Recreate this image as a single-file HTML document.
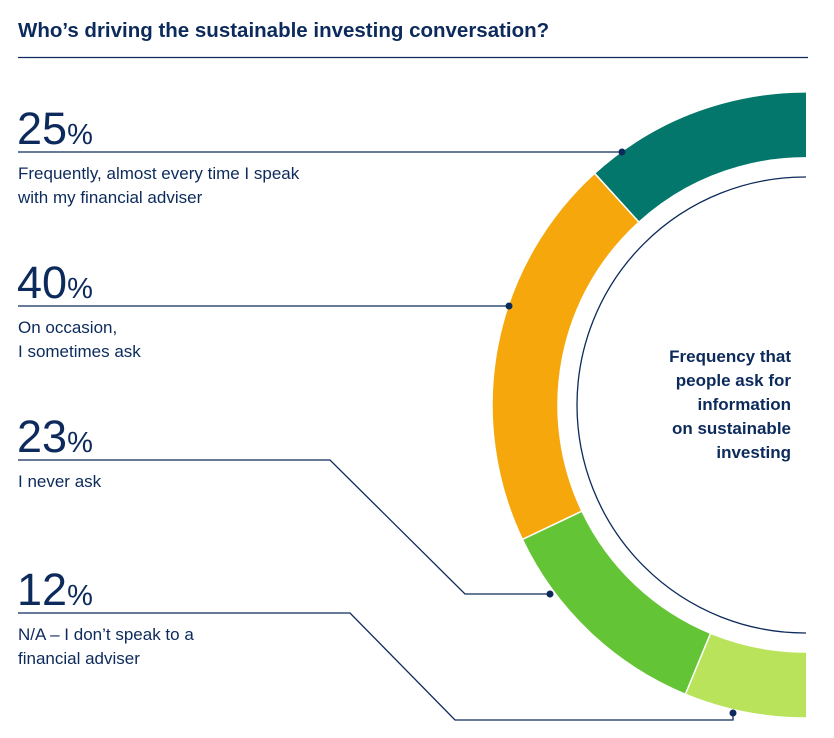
<!DOCTYPE html>
<html><head><meta charset="utf-8"><style>
body{margin:0;background:#fff;width:834px;height:738px;overflow:hidden;font-family:"Liberation Sans",sans-serif;color:#0c2a5b}
svg{position:absolute;left:0;top:0}
</style></head><body>
<svg width="834" height="738">
<defs><clipPath id="cut"><rect x="0" y="0" width="806" height="738"/></clipPath></defs>
<text x="18" y="37" font-size="20.5" font-weight="bold" fill="#0c2a5b">Who’s driving the sustainable investing conversation?</text>
<line x1="18" y1="57.5" x2="808" y2="57.5" stroke="#0c2a5b" stroke-width="1.3"/>
<g clip-path="url(#cut)">
<g id="arcs"></g>
<circle cx="805" cy="405" r="228" fill="none" stroke="#0c2a5b" stroke-width="1.3"/>
</g>
<g id="labels"></g>
<g font-size="17" font-weight="bold" fill="#0c2a5b" text-anchor="end">
<text x="791" y="362">Frequency that</text>
<text x="791" y="386">people ask for</text>
<text x="791" y="410">information</text>
<text x="791" y="434">on sustainable</text>
<text x="791" y="458">investing</text>
</g>
</svg>
<script>
const categories=["Frequently, almost every time I speak|with my financial adviser","On occasion,|I sometimes ask","I never ask","N/A – I don’t speak to a|financial adviser"];
const values=[25,40,23,12];
const colors=["#03776b","#f5a70c","#63c435","#b8e35a"];
const cx=805,cy=405,R=313,r=247,k=1.83,start=-3.5;
const NS="http://www.w3.org/2000/svg";
function pt(a,rad){const t=a*Math.PI/180;return [cx-rad*Math.sin(t),cy-rad*Math.cos(t)];}
const arcs=document.getElementById('arcs');
let a=start;
values.forEach((v,i)=>{
 let a0=a, a2=a+v*k;
 if(i===0) a0=start-8;
 if(i===values.length-1) a2=a2+8;
 const [x1,y1]=pt(a0,R),[x2,y2]=pt(a2,R),[x3,y3]=pt(a2,r),[x4,y4]=pt(a0,r);
 const p=document.createElementNS(NS,'path');
 p.setAttribute('d',`M${x1},${y1}A${R},${R} 0 0 0 ${x2},${y2}L${x3},${y3}A${r},${r} 0 0 1 ${x4},${y4}Z`);
 p.setAttribute('fill',colors[i]);p.setAttribute('stroke','#fff');p.setAttribute('stroke-width','1.5');
 
 
 arcs.appendChild(p);a=a+v*k;
});
const lab=document.getElementById('labels');
const ys=[152,306,460,613];
const dots=[[622,152],[509,306],[550,594],[733,713]];
const paths=["M18,152H622","M18,306H509","M18,460H330L465,594H550","M18,613H350L455,720H733V713"];
values.forEach((v,i)=>{
 const y=ys[i];
 const l=document.createElementNS(NS,'path');
 l.setAttribute('d',paths[i]);l.setAttribute('fill','none');l.setAttribute('stroke','#0c2a5b');l.setAttribute('stroke-width','1.3');
 
 
 lab.appendChild(l);
 const c=document.createElementNS(NS,'circle');
 c.setAttribute('cx',dots[i][0]);c.setAttribute('cy',dots[i][1]);c.setAttribute('r','3.5');c.setAttribute('fill','#0c2a5b');
 
 
 lab.appendChild(c);
 const t=document.createElementNS(NS,'text');
 t.setAttribute('x','17');t.setAttribute('y',y-8);t.setAttribute('fill','#0c2a5b');
 t.innerHTML=`<tspan font-size="45">${v}</tspan><tspan font-size="29">%</tspan>`;
 
 
 lab.appendChild(t);
 categories[i].split('|').forEach((s,j)=>{
  const d=document.createElementNS(NS,'text');
  d.setAttribute('x','18');d.setAttribute('y',y+27+j*24);d.setAttribute('font-size','17');d.setAttribute('fill','#0c2a5b');
  d.textContent=s;
  
  
  lab.appendChild(d);
 });
});
</script>
</body></html>
